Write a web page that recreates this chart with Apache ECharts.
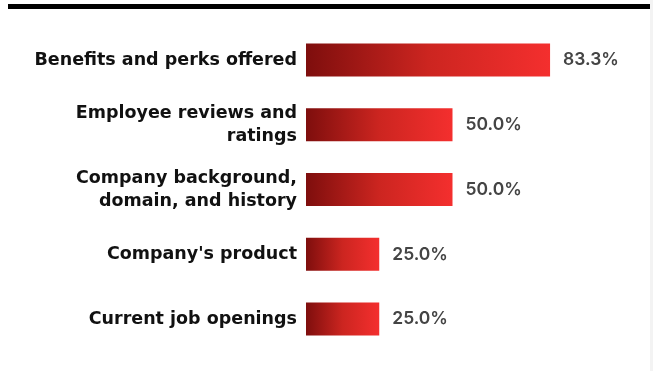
<!DOCTYPE html>
<html>
<head>
<meta charset="utf-8">
<title>ECharts</title>
<script src="https://cdn.jsdelivr.net/npm/echarts@6/dist/echarts.min.js"></script>
<style>
  html, body { margin: 0; padding: 0; background: #fff; }
</style>
</head>
<body>
	<div id="main" style="width: 653px; height: 371px;"></div>
	<script type="text/javascript">
		var categories = [
			'Benefits and perks offered',
			'Employee reviews and\nratings',
			'Company background,\ndomain, and history',
			"Company's product",
			'Current job openings'
		];
		var values = [83.3, 50.0, 50.0, 25.0, 25.0];

		var myChart = echarts.init(document.getElementById('main'));

		var option = {
			animation: false,
			graphic: [
				{ type: 'rect', shape: { x: 8, y: 4, width: 642, height: 5 }, style: { fill: '#000' } },
				{ type: 'rect', shape: { x: 650, y: 0, width: 3, height: 371 }, style: { fill: '#f3f3f3' } }
			],
			grid: {
				left: 306,
				width: 293,
				top: 27.6,
				height: 323.8
			},
			xAxis: {
				type: 'value',
				min: 0,
				max: 100,
				show: false
			},
			yAxis: {
				type: 'category',
				inverse: true,
				data: categories,
				axisLine: { show: false },
				axisTick: { show: false },
				axisLabel: {
					margin: 9,
					color: '#111',
					fontFamily: 'DejaVu Sans',
					fontWeight: 'bold',
					fontSize: 17.5,
					lineHeight: 23,
					align: 'right'
				}
			},
			series: [{
				type: 'bar',
				data: values,
				barWidth: 33,
				itemStyle: {
					color: new echarts.graphic.LinearGradient(0, 0, 1, 0, [
						{ offset: 0, color: '#7e0e0d' },
						{ offset: 0.5, color: '#cc2520' },
						{ offset: 1, color: '#f42f2e' }
					])
				},
				label: {
					show: true,
					position: 'right',
					distance: 13,
					color: '#444',
					fontFamily: 'Inter',
					fontWeight: 600,
					fontSize: 17.5,
					formatter: function (p) { return p.value.toFixed(1) + '%'; }
				}
			}]
		};
		myChart.setOption(option);
	</script>
</body>
</html>
